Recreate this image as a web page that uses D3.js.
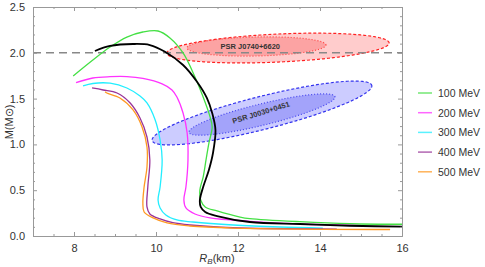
<!DOCTYPE html>
<html><head><meta charset="utf-8">
<script src="https://cdn.jsdelivr.net/npm/d3@7/dist/d3.min.js"></script>
<style>
body{margin:0;background:#fff;}
svg{display:block;font-family:"Liberation Sans",Arial,sans-serif;}
</style></head>
<body><svg id="c" width="485" height="267"></svg>
<script>
// ---- data ----
const seriesNames = ["100 MeV","200 MeV","300 MeV","400 MeV","500 MeV"];
const seriesColors = ["#44e044","#ff33ff","#22eeff","#993399","#ff9922"];
const curve100 = [[7.98,1.747],[8.46,1.921],[8.88,2.063],[9.29,2.172],[9.68,2.227],[10.05,2.238],[10.34,2.162],[10.66,1.998],[10.95,1.736],[11.15,1.517],[11.32,1.299],[11.37,1.19],[11.29,1.015],[11.22,0.83],[11.15,0.644],[11.07,0.502],[11.09,0.393],[11.20,0.317],[11.49,0.273],[12.05,0.207],[12.29,0.19],[13.51,0.156],[14.73,0.134],[16.2,0.128]];
const curve200 = [[8.05,1.674],[8.46,1.725],[8.88,1.739],[9.29,1.740],[9.68,1.72],[10.15,1.66],[10.39,1.594],[10.51,1.517],[10.66,1.343],[10.76,1.124],[10.78,0.830],[10.73,0.535],[10.68,0.393],[10.73,0.306],[10.95,0.240],[11.32,0.197],[12.29,0.160],[13.51,0.131],[15.05,0.112]];
const curve300 = [[8.22,1.638],[8.46,1.665],[8.88,1.668],[9.29,1.616],[9.61,1.528],[9.78,1.452],[9.98,1.266],[10.10,1.048],[10.15,0.830],[10.10,0.535],[10.05,0.393],[10.10,0.306],[10.24,0.229],[10.51,0.175],[10.90,0.153],[11.88,0.120],[13.02,0.098],[14.07,0.087]];
const curve400 = [[8.44,1.616],[8.71,1.594],[9.05,1.561],[9.37,1.452],[9.61,1.288],[9.78,1.081],[9.85,0.830],[9.80,0.535],[9.78,0.317],[9.85,0.240],[10.10,0.186],[10.41,0.145],[10.83,0.120],[11.88,0.090],[14.41,0.076]];
const curve500 = [[8.76,1.575],[8.80,1.561],[9.12,1.507],[9.44,1.376],[9.66,1.190],[9.78,0.972],[9.78,0.753],[9.71,0.535],[9.68,0.360],[9.71,0.262],[9.93,0.197],[10.27,0.142],[10.83,0.109],[11.88,0.087],[15.71,0.071]];
const curveBlack = [[8.51,2.02],[8.88,2.075],[9.44,2.096],[9.85,2.085],[10.22,2.012],[10.66,1.867],[11.0,1.684],[11.24,1.507],[11.37,1.343],[11.45,1.157],[11.39,0.906],[11.29,0.721],[11.15,0.535],[11.07,0.393],[11.09,0.317],[11.20,0.262],[11.49,0.218],[12.29,0.153],[13.51,0.131],[14.73,0.112],[16.2,0.100]];
const seriesCurves = [curve100,curve200,curve300,curve400,curve500];
// ellipses: [centerR, centerM, A (km), B (M), C (M)]
const ellipseNames = ["PSR J0740+6620","PSR J0030+0451"];
const redOuter = [12.976,2.052,2.71,0.055,0.153];
const redInner = [12.45,2.069,1.695,0.016,0.104];
const blueOuter = [12.585,1.343,2.68,0.295,0.186];
const blueInner = [12.585,1.326,1.78,0.191,0.12];
const xTicks = [8,10,12,14,16];
const yTicks = [0,0.5,1.0,1.5,2.0,2.5];
const refMass = 2.0;

// ---- chart ----
const svg = d3.select("#c");
const x = d3.scaleLinear([7,16],[33,402]);
const y = d3.scaleLinear([0,2.5],[236,7]);

svg.append("defs").append("clipPath").attr("id","clip")
  .append("rect").attr("x",33).attr("y",7).attr("width",369).attr("height",229);

const plot = svg.append("g").attr("clip-path","url(#clip)");

function ellipsePts(e){
  const pts=[];
  for(let i=0;i<=120;i++){const t=i/120*2*Math.PI;
    pts.push([e[0]+e[2]*Math.cos(t), e[1]+e[3]*Math.cos(t)+e[4]*Math.sin(t)]);}
  return pts;
}
const eline = d3.line().x(d=>x(d[0])).y(d=>y(d[1]));
function drawEllipse(e, fill, stroke, dash){
  plot.append("path").attr("d",eline(ellipsePts(e))+"Z").attr("fill",fill)
    .attr("stroke",stroke).attr("stroke-width",1.2).attr("stroke-dasharray",dash);
}
drawEllipse(redOuter,"rgba(255,0,0,0.2)","#ff2222","3,2");
drawEllipse(redInner,"rgba(240,0,0,0.2)","#ff4444","1,2");
drawEllipse(blueOuter,"rgba(0,0,255,0.2)","#3333ee","3,2");
drawEllipse(blueInner,"rgba(0,0,230,0.2)","#4444ee","1,2");

// reference line
plot.append("line").attr("x1",x(7)).attr("x2",x(16)).attr("y1",y(refMass)).attr("y2",y(refMass))
  .attr("stroke","#888").attr("stroke-width",1.5).attr("stroke-dasharray","8,5");

// labels
svg.append("text").attr("x",x(12.3)).attr("y",y(2.045)).attr("text-anchor","middle")
  .attr("font-size",7.5).attr("font-weight","bold").attr("fill","#333").text(ellipseNames[0]);
{const lx=x(12.58), ly=y(1.32);
svg.append("text").attr("transform",`translate(${lx},${ly}) rotate(-17)`).attr("text-anchor","middle")
  .attr("font-size",7.5).attr("font-weight","bold").attr("fill","#333").text(ellipseNames[1]);}

const line = d3.line().x(d=>x(d[0])).y(d=>y(d[1])).curve(d3.curveCatmullRom.alpha(0.5));
seriesCurves.forEach((c,i)=>{
  plot.append("path").attr("d",line(c)).attr("fill","none").attr("stroke",seriesColors[i]).attr("stroke-width",1.3);
});
plot.append("path").attr("d",line(curveBlack)).attr("fill","none").attr("stroke","#000").attr("stroke-width",1.8);

// axes (frame with inside ticks)
const xMinor = d3.range(7,16.01,0.5).filter(v=>!xTicks.includes(v));
const yMinor = d3.range(0,2.501,0.1).map(v=>+v.toFixed(1)).filter(v=>!yTicks.some(t=>Math.abs(t-v)<1e-6));
function styleAxis(g){g.select(".domain").attr("stroke","#999");g.selectAll(".tick line").attr("stroke","#999");
  g.selectAll("text").attr("fill","#333").attr("font-size",11).attr("font-family","Liberation Sans, Arial, sans-serif");}
svg.append("g").attr("transform","translate(0,236)").call(d3.axisBottom(x).tickValues(xTicks).tickSizeInner(-4).tickSizeOuter(0).tickPadding(8).tickFormat(d3.format("d"))).call(styleAxis);
svg.append("g").attr("transform","translate(0,236)").call(d3.axisBottom(x).tickValues(xMinor).tickSizeInner(-2).tickSizeOuter(0).tickFormat("")).call(styleAxis);
svg.append("g").attr("transform","translate(0,7)").call(d3.axisTop(x).tickValues(xTicks).tickSizeInner(-4).tickSizeOuter(0).tickFormat("")).call(styleAxis);
svg.append("g").attr("transform","translate(0,7)").call(d3.axisTop(x).tickValues(xMinor).tickSizeInner(-2).tickSizeOuter(0).tickFormat("")).call(styleAxis);
svg.append("g").attr("transform","translate(33,0)").call(d3.axisLeft(y).tickValues(yTicks).tickSizeInner(-4).tickSizeOuter(0).tickPadding(8).tickFormat(d3.format(".1f"))).call(styleAxis);
svg.append("g").attr("transform","translate(33,0)").call(d3.axisLeft(y).tickValues(yMinor).tickSizeInner(-2).tickSizeOuter(0).tickFormat("")).call(styleAxis);
svg.append("g").attr("transform","translate(402,0)").call(d3.axisRight(y).tickValues(yTicks).tickSizeInner(-4).tickSizeOuter(0).tickFormat("")).call(styleAxis);
svg.append("g").attr("transform","translate(402,0)").call(d3.axisRight(y).tickValues(yMinor).tickSizeInner(-2).tickSizeOuter(0).tickFormat("")).call(styleAxis);

// axis titles
svg.append("text").attr("transform","translate(13,122) rotate(-90)").attr("text-anchor","middle")
  .attr("font-size",11).attr("fill","#333").text("M(M⊙)");
const xt = svg.append("text").attr("x",217).attr("y",262).attr("text-anchor","middle").attr("font-size",11).attr("fill","#333");
xt.append("tspan").attr("font-style","italic").text("R");
xt.append("tspan").attr("font-style","italic").attr("font-size",8).attr("dy",2).text("B");
xt.append("tspan").attr("dy",-2).text("(km)");

// legend
const lg = svg.append("g");
seriesNames.forEach((n,i)=>{
  const yy = 93 + i*19.7;
  lg.append("line").attr("x1",418).attr("x2",432).attr("y1",yy).attr("y2",yy).attr("stroke",seriesColors[i]).attr("stroke-width",1.5).attr("opacity",0.75);
  lg.append("text").attr("x",438).attr("y",yy+3.8).attr("font-size",10.5).attr("fill","#333").text(n);
});
</script></body></html>
